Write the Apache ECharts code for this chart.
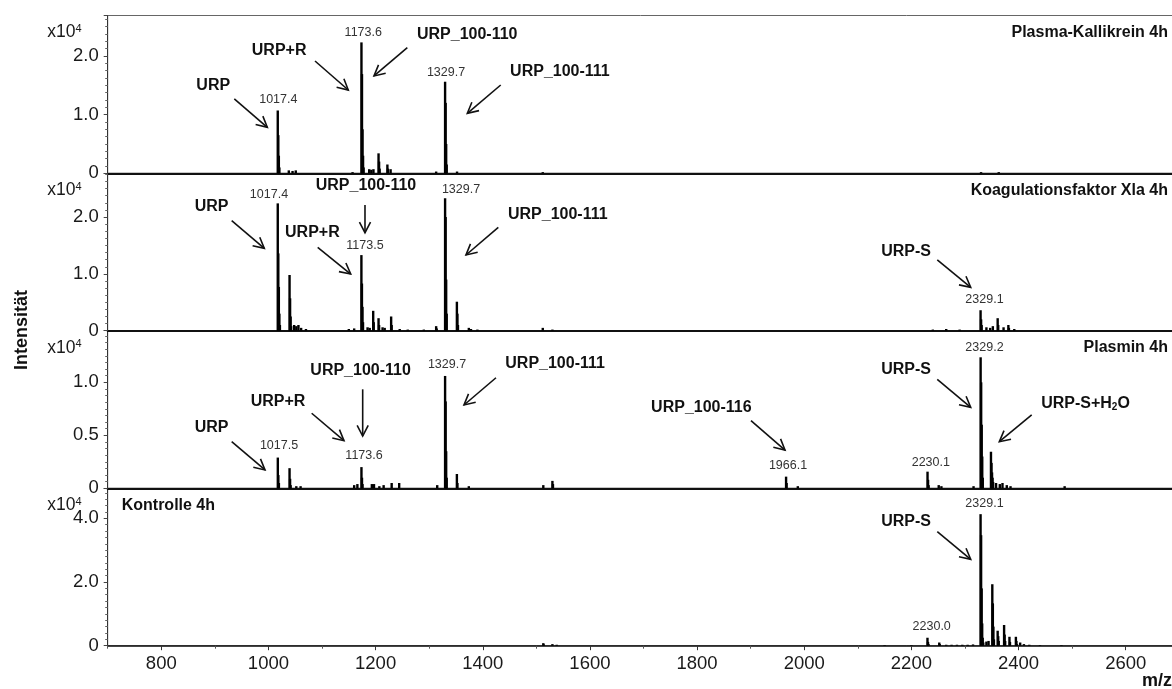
<!DOCTYPE html>
<html><head><meta charset="utf-8">
<script src="https://cdn.jsdelivr.net/npm/echarts@6/dist/echarts.min.js"></script>
<style>html,body{margin:0;padding:0;background:#fff}#c{width:1172px;height:689px}</style>
</head><body><div id="c"></div>
<script>
const FF = '"Liberation Sans", Arial, sans-serif';

// ---------- data ----------
const panelNames = ['Plasma-Kallikrein 4h', 'Koagulationsfaktor Xla 4h', 'Plasmin 4h', 'Kontrolle 4h'];
const xMin = 700, xMax = 2700, xInterval = 100;
const xMajorTicks = [800, 1000, 1200, 1400, 1600, 1800, 2000, 2200, 2400, 2600];
const xMinorTicks = [700, 900, 1100, 1300, 1500, 1700, 1900, 2100, 2300, 2500, 2700];
const yMax = [2.688, 2.769, 1.487, 4.942];      // x10^4
const yInterval = [1.0, 1.0, 0.5, 2.0];
const yMinorSplit = [8, 8, 8, 10];

// [m/z, intensity x10^4]
const kallikreinPeaks = [
  [1017.4,1.07],[1018.4,0.65],[1019.4,0.30],[1020.4,0.10],
  [1038,0.05],[1045,0.04],[1051,0.05],[1157,0.02],
  [1173.6,2.23],[1174.6,1.69],[1175.6,0.75],[1176.6,0.30],[1177.6,0.10],
  [1188,0.07],[1192,0.06],[1196,0.07],
  [1205.5,0.34],[1206.5,0.20],[1207.5,0.08],
  [1222,0.15],[1223,0.08],[1228,0.07],
  [1313,0.03],
  [1329.7,1.56],[1330.7,1.20],[1331.7,0.50],[1332.7,0.15],
  [1352,0.03],[1512,0.02],[2330,0.02],[2363,0.02]
];
const factorXIaPeaks = [
  [1017.4,2.24],[1018.4,1.36],[1019.4,0.77],[1020.4,0.30],[1021.4,0.10],
  [1039.4,0.98],[1040.4,0.57],[1041.4,0.25],[1042.4,0.08],
  [1048,0.10],[1052,0.08],[1056,0.10],[1061,0.05],[1070,0.03],
  [1150,0.03],[1160,0.04],
  [1173.5,1.33],[1174.5,0.83],[1175.5,0.42],[1176.5,0.15],
  [1185,0.06],[1189,0.05],
  [1195.5,0.35],[1196.5,0.15],
  [1205.5,0.22],[1206.5,0.10],
  [1213,0.06],[1217,0.05],
  [1229,0.25],[1230,0.10],
  [1245,0.03],[1260,0.02],[1290,0.02],
  [1313,0.08],[1314,0.04],
  [1329.7,2.33],[1330.7,2.00],[1331.7,0.90],[1332.7,0.30],
  [1351.7,0.51],[1352.7,0.30],[1353.7,0.10],
  [1374,0.05],[1378,0.03],[1390,0.02],
  [1512,0.05],[1530,0.02],
  [2240,0.02],[2265,0.03],[2290,0.02],
  [2329.1,0.36],[2330.1,0.20],[2331.1,0.10],
  [2340,0.06],[2347,0.05],[2352,0.08],
  [2361,0.22],[2362,0.10],
  [2372,0.06],[2381,0.10],[2382,0.05],[2392,0.03]
];
const plasminPeaks = [
  [1017.5,0.29],[1018.5,0.125],[1019.5,0.05],
  [1039.4,0.19],[1040.4,0.09],[1041.4,0.03],
  [1052,0.02],[1060,0.02],
  [1160,0.03],[1166,0.04],
  [1173.6,0.20],[1174.6,0.10],[1175.6,0.04],
  [1193,0.04],[1197,0.04],
  [1207,0.02],[1215,0.03],[1230,0.05],[1244,0.05],
  [1315,0.03],
  [1329.7,1.06],[1330.7,0.82],[1331.7,0.35],[1332.7,0.10],
  [1351.7,0.135],[1352.7,0.05],
  [1374,0.02],
  [1513,0.03],[1530,0.07],[1531,0.04],
  [1966.1,0.11],[1967.1,0.05],
  [1988,0.02],
  [2230.1,0.157],[2231.1,0.08],[2232.1,0.03],
  [2251,0.03],[2256,0.02],
  [2316,0.02],
  [2329.2,1.236],[2330.2,1.00],[2331.2,0.60],[2332.2,0.30],[2333.2,0.10],
  [2348.5,0.345],[2349.5,0.24],[2350.5,0.15],[2351.5,0.10],[2352.5,0.06],
  [2358,0.05],[2365,0.04],[2370,0.05],[2378,0.03],[2385,0.02],
  [2486,0.02]
];
const controlPeaks = [
  [1513,0.08],[1514,0.04],[1530,0.05],[1538,0.03],
  [2150,0.02],[2200,0.02],
  [2230.0,0.25],[2231,0.12],[2232,0.05],
  [2252,0.10],[2253,0.05],
  [2265,0.03],[2275,0.03],[2285,0.03],[2295,0.03],[2305,0.03],[2315,0.04],
  [2329.1,4.13],[2330.1,3.47],[2331.1,1.80],[2332.1,0.70],[2333.1,0.25],[2334.1,0.10],
  [2340,0.13],[2344,0.15],
  [2351,1.93],[2352,1.33],[2353,0.60],[2354,0.20],
  [2361,0.47],[2362,0.30],[2363,0.15],
  [2373,0.65],[2374,0.35],[2375,0.15],
  [2383,0.28],[2384,0.12],
  [2395,0.28],[2396,0.15],[2397,0.05],
  [2403,0.10],[2410,0.05],[2420,0.03],[2440,0.02],[2480,0.02]
];
const spectra = [kallikreinPeaks, factorXIaPeaks, plasminPeaks, controlPeaks];

// annotations: [panel, text, m/z, intensity]
const peakLabels = [
  [0,'1017.4',1018.4,1.249],[0,'1173.6',1177.0,2.395],[0,'1329.7',1331.4,1.721],
  [1,'1017.4',1001.0,2.399],[1,'1173.5',1180.2,1.502],[1,'1329.7',1359.4,2.487],[1,'2329.1',2336.4,0.540],
  [2,'1017.5',1019.7,0.399],[2,'1173.6',1178.4,0.305],[2,'1329.7',1333.3,1.170],[2,'1966.1',1969.7,0.210],
  [2,'2230.1',2236.2,0.245],[2,'2329.2',2336.4,1.330],
  [3,'2329.1',2336.4,4.449],[3,'2230.0',2237.9,0.597]
];
const nameLabels = [
  [0,'URP',897,1.49],[0,'URP+R',1020,2.09],[0,'URP_100-110',1371,2.37],[0,'URP_100-111',1544,1.73],
  [1,'URP',894,2.18],[1,'URP_100-110',1182,2.55],[1,'URP+R',1082,1.72],[1,'URP_100-111',1540,2.05],[1,'URP-S',2190,1.39],
  [2,'URP',894,0.575],[2,'URP+R',1018,0.817],[2,'URP_100-110',1172,1.109],[2,'URP_100-111',1535,1.179],
  [2,'URP_100-116',1808,0.760],[2,'URP-S',2190,1.123],[2,'URP-S+H2O',2525,0.802],
  [3,'URP-S',2190,3.893]
];
// [panel, m/z start, int start, m/z end, int end]
const arrows = [
  [0,936.3,1.266,997.9,0.784],[0,1086.9,1.913,1149.0,1.419],[0,1259.2,2.140,1197.0,1.658],[0,1433.5,1.504,1371.2,1.022],
  [1,931.4,1.935,992.3,1.449],[1,1180.2,2.211,1180.2,1.724],[1,1091.9,1.467,1153.5,0.997],[1,1429.0,1.819,1368.7,1.332],[1,2248.3,1.244,2310.7,0.763],
  [2,931.4,0.440,993.6,0.173],[2,1080.7,0.708,1141.0,0.449],[2,1175.9,0.934,1175.9,0.493],[2,1424.7,1.043,1365.0,0.786],
  [2,1900.6,0.638,1964.1,0.361],[2,2248.3,1.028,2310.7,0.764],[2,2424.5,0.692,2364.1,0.440],
  [3,2248.3,3.579,2310.7,2.713]
];

// ---------- layout ----------
const gridTops = [15.5, 173.3, 330.7, 488.3];
const gridHeights = [157.8, 157.4, 157.6, 157.4];
const gridLeft = 107.7, gridWidth = 1071.6;

const chart = echarts.init(document.getElementById('c'), null, {renderer: 'canvas'});

const grids = [], xAxes = [], yAxes = [], series = [];
for (let i = 0; i < 4; i++) {
  const last = i === 3;
  grids.push({left: gridLeft, top: gridTops[i], width: gridWidth, height: gridHeights[i],
    outerBoundsMode: 'none', containLabel: false,
    show: true, borderColor: '#666', borderWidth: 1, backgroundColor: 'transparent'});
  xAxes.push({
    gridIndex: i, type: 'value', position: 'bottom', min: xMin, max: xMax, interval: xInterval,
    axisLine: {show: true, onZero: false, lineStyle: {color: '#111', width: last ? 1.5 : 2}},
    axisTick: {show: last, length: 4.5, customValues: xMajorTicks, lineStyle: {color: '#333'}},
    minorTick: {show: false},
    splitLine: {show: false},
    axisLabel: {show: last, customValues: xMajorTicks, fontSize: 18.5, fontFamily: FF, color: '#1a1a1a', margin: 9,
      formatter: v => String(v)}
  });
  yAxes.push({
    gridIndex: i, type: 'value', min: 0, max: yMax[i], interval: yInterval[i],
    axisLine: {show: true, lineStyle: {color: '#333', width: 1}},
    axisTick: {show: true, length: 4, lineStyle: {color: '#444'}},
    minorTick: {show: true, splitNumber: yMinorSplit[i], length: 2.5, lineStyle: {color: '#666'}},
    splitLine: {show: false},
    axisLabel: {fontSize: 18.5, fontFamily: FF, color: '#1a1a1a', margin: 9, showMaxLabel: false,
      formatter: v => v === 0 ? '0' : v.toFixed(1)}
  });
  series.push({
    type: 'bar', xAxisIndex: i, yAxisIndex: i, data: spectra[i], barWidth: 2.4,
    barGap: '-100%', itemStyle: {color: '#000'}, silent: true
  });
}
// secondary bottom axis carrying only the short (minor) ticks
xAxes.push({
  gridIndex: 3, type: 'value', position: 'bottom', min: xMin, max: xMax, interval: xInterval,
  axisLine: {show: false}, splitLine: {show: false}, axisLabel: {show: false},
  axisTick: {show: true, length: 3, customValues: xMinorTicks, lineStyle: {color: '#555'}}
});

chart.setOption({animation: false, backgroundColor: '#fff', grid: grids, xAxis: xAxes, yAxis: yAxes, series});

// ---------- annotations ----------
const px = (p, mz, v) => chart.convertToPixel({gridIndex: p}, [mz, v]);
const graphics = [];
const boldFont = {fontSize: 16, fontWeight: 'bold', fontFamily: FF};

peakLabels.forEach(([p, t, mz, v]) => {
  const [x, y] = px(p, mz, v);
  graphics.push({type: 'text', x, y, silent: true,
    style: {text: t, fontSize: 12.5, fontFamily: FF, fill: '#333', textAlign: 'center', textVerticalAlign: 'middle'}});
});
nameLabels.forEach(([p, t, mz, v]) => {
  const [x, y] = px(p, mz, v);
  if (t === 'URP-S+H2O') {
    graphics.push({type: 'text', x, y, silent: true,
      style: {text: '{b|URP-S+H}{s|2}{b|O}', textAlign: 'center', textVerticalAlign: 'middle', fill: '#111',
        rich: {b: Object.assign({lineHeight: 18, fill: '#111'}, boldFont),
               s: {fontSize: 10, fontWeight: 'bold', fontFamily: FF, lineHeight: 10, verticalAlign: 'bottom', fill: '#111'}}}});
  } else {
    graphics.push({type: 'text', x, y, silent: true,
      style: Object.assign({text: t, fill: '#111', textAlign: 'center', textVerticalAlign: 'middle'}, boldFont)});
  }
});
arrows.forEach(([p, m1, v1, m2, v2]) => {
  const a = px(p, m1, v1), b = px(p, m2, v2);
  const ang = Math.atan2(b[1] - a[1], b[0] - a[0]);
  const L = 12, da = 0.48;
  const h1 = [b[0] - L * Math.cos(ang - da), b[1] - L * Math.sin(ang - da)];
  const h2 = [b[0] - L * Math.cos(ang + da), b[1] - L * Math.sin(ang + da)];
  graphics.push({type: 'line', silent: true, shape: {x1: a[0], y1: a[1], x2: b[0], y2: b[1]},
    style: {stroke: '#111', lineWidth: 1.6}});
  graphics.push({type: 'polyline', silent: true, shape: {points: [h1, b, h2]},
    style: {stroke: '#111', lineWidth: 1.6, fill: null}});
});
for (let i = 0; i < 4; i++) {
  graphics.push({type: 'text', x: gridLeft - 26, y: gridTops[i] + 17, silent: true,
    style: {text: '{a|x10}{s|4}', textAlign: 'right', textVerticalAlign: 'middle',
      rich: {a: {fontSize: 17.5, fontFamily: FF, lineHeight: 18, fill: '#1a1a1a'},
             s: {fontSize: 11, fontFamily: FF, lineHeight: 11, verticalAlign: 'top', fill: '#1a1a1a'}}}});
  const left = i === 3;
  graphics.push({type: 'text', x: left ? gridLeft + 14 : 1168, y: gridTops[i] + 17, silent: true,
    style: Object.assign({text: panelNames[i], fill: '#111', textAlign: left ? 'left' : 'right', textVerticalAlign: 'middle'}, boldFont)});
}
graphics.push({type: 'text', x: 22, y: 330, rotation: Math.PI / 2, silent: true,
  style: {text: 'Intensität', fontSize: 18, fontWeight: 'bold', fontFamily: FF, fill: '#111', textAlign: 'center', textVerticalAlign: 'middle'}});
graphics.push({type: 'text', x: 1172, y: 681, silent: true,
  style: {text: 'm/z', fontSize: 18, fontWeight: 'bold', fontFamily: FF, fill: '#111', textAlign: 'right', textVerticalAlign: 'middle'}});

chart.setOption({graphic: graphics});
</script>
</body></html>
